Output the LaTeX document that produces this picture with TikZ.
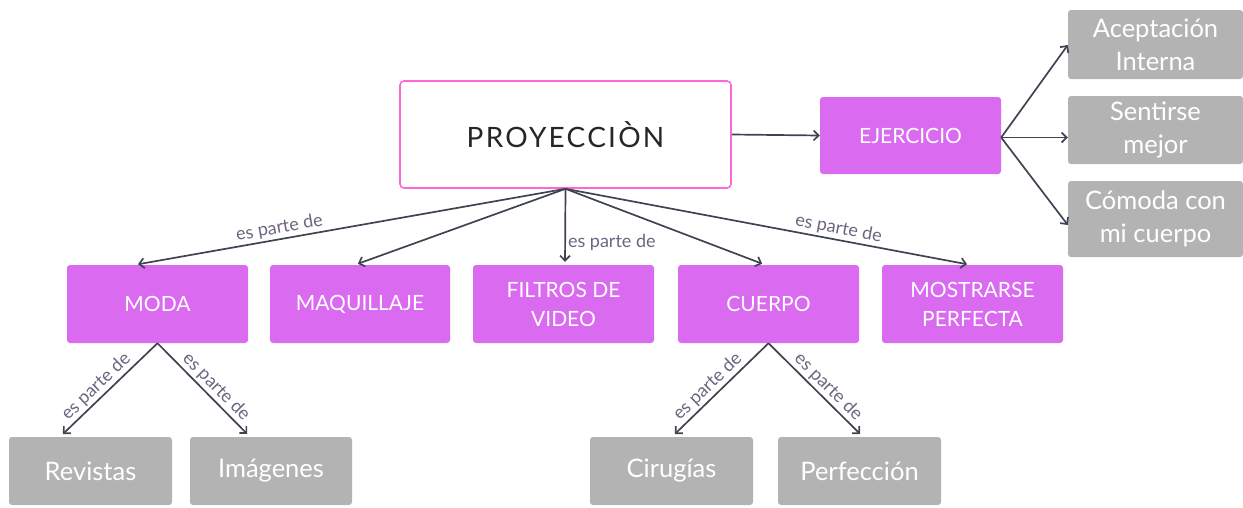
\documentclass[tikz,border=0pt]{standalone}
\usepackage{fontspec}
\setmainfont{Lato}
\usetikzlibrary{arrows.meta,calc}
\definecolor{mag}{HTML}{DA6BF1}
\definecolor{gry}{HTML}{B3B3B3}
\definecolor{pinkb}{HTML}{FF66DA}
\definecolor{arr}{HTML}{3F4452}
\definecolor{lbl}{HTML}{6E6480}
\tikzset{
  x=1pt,y=-1pt,
  magbox/.style={fill=mag,rounded corners=3pt,inner sep=0pt,align=center,text=white,font=\fontsize{21}{29}\selectfont},
  grybox/.style={fill=gry,rounded corners=3pt,inner sep=0pt,align=center,text=white,font=\fontsize{25.5}{33}\selectfont},
  link/.style={draw=arr,line width=1.7pt,-{Straight Barb[length=5pt,width=10pt,line width=1.7pt]}},
  lab/.style={text=lbl,font=\fontsize{18}{20}\selectfont,inner sep=2pt}
}
\begin{document}
\begin{tikzpicture}
\useasboundingbox (0,0) rectangle (1243,507);
% main
\node[draw=pinkb,line width=1.6pt,fill=white,rounded corners=4pt,minimum width=331pt,minimum height=107pt,inner sep=0pt,font=\fontsize{28}{32}\selectfont\addfontfeatures{LetterSpace=8},text=black!85] (P) at (565.5,134.5) {PROYECCIÒN};
\node[magbox,minimum width=181pt,minimum height=77pt] (E) at (910.5,135.5) {EJERCICIO};
% right grey
\node[grybox,minimum width=175pt,minimum height=69pt] (A1) at (1155.5,44.5) {Aceptación\\Interna};
\node[grybox,minimum width=175pt,minimum height=68pt] (A2) at (1155.5,130) {Sentirse\\mejor};
\node[grybox,minimum width=175pt,minimum height=76pt] (A3) at (1155.5,219) {Cómoda con\\mi cuerpo};
% row 2
\node[magbox,minimum width=181pt,minimum height=78pt] (MO) at (157.5,304) {MODA};
\node[magbox,minimum width=180pt,minimum height=78pt] (MA) at (360,304) {MAQUILLAJE};
\node[magbox,minimum width=181pt,minimum height=78pt] (FI) at (563.5,304) {FILTROS DE\\VIDEO};
\node[magbox,minimum width=181pt,minimum height=78pt] (CU) at (768.5,304) {CUERPO};
\node[magbox,minimum width=181pt,minimum height=78pt] (MS) at (972.5,304) {MOSTRARSE\\PERFECTA};
% row 3
\node[grybox,minimum width=163pt,minimum height=68pt] (RE) at (90.5,471) {Revistas};
\node[grybox,minimum width=162pt,minimum height=68pt] (IM) at (271,471) {Imágenes};
\node[grybox,minimum width=163pt,minimum height=68pt] (CI) at (671.5,471) {Cirugías};
\node[grybox,minimum width=163pt,minimum height=68pt] (PE) at (859.5,471) {Perfección};
% connectors top
\draw[link] (P.east) -- (E.west);
\draw[link] ([yshift=-2pt]E.east) -- ([yshift=-0.5pt]A1.west);
\draw[link] ([yshift=-2pt]E.east) -- ([yshift=-2pt]E.east -| A2.west);
\draw[link] ([yshift=-2pt]E.east) -- ([yshift=-6pt]A3.west);
\draw[link,shorten >=3pt] (P.south) -- ([xshift=-22.5pt]MO.north) node[lab,pos=0.66,sloped,above] {es parte de};
\draw[link,shorten >=3pt] (P.south) -- ([xshift=-5pt]MA.north);
\draw[link,shorten >=3pt] (P.south) -- ([xshift=1.5pt]FI.north) node[lab,pos=0.7,right,anchor=west] {es parte de};
\draw[link,shorten >=3pt] (P.south) -- ([xshift=-3.5pt]CU.north);
\draw[link,shorten >=3pt] (P.south) -- ([xshift=-2.5pt]MS.north) node[lab,pos=0.67,sloped,above] {es parte de};
% bottom
\draw[link,shorten >=4pt] (MO.south) -- ([xshift=-30.5pt]RE.north) node[lab,pos=0.55,sloped,above] {es parte de};
\draw[link,shorten >=4pt] (MO.south) -- ([xshift=-21pt]IM.north) node[lab,pos=0.55,sloped,above] {es parte de};
\draw[link,shorten >=4pt] (CU.south) -- ([xshift=0.5pt]CI.north) node[lab,pos=0.55,sloped,above] {es parte de};
\draw[link,shorten >=4pt] (CU.south) -- ([xshift=3.5pt]PE.north) node[lab,pos=0.55,sloped,above] {es parte de};
\end{tikzpicture}
\end{document}
